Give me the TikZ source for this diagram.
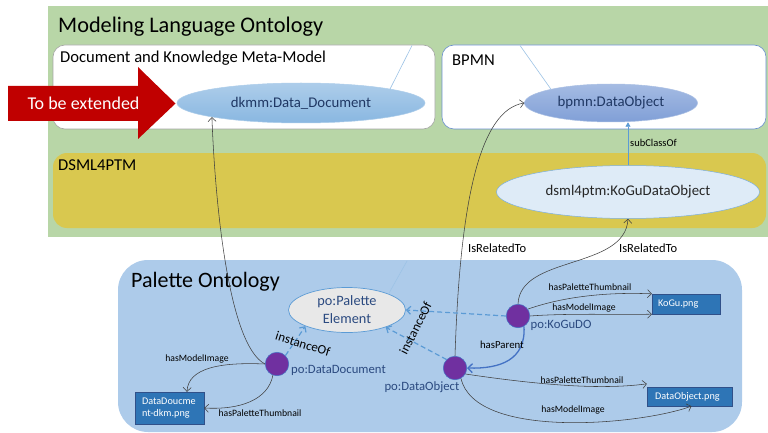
\documentclass[tikz,border=0pt]{standalone}
\usepackage{fontspec}
\setmainfont{Carlito}
\usetikzlibrary{arrows.meta,shapes.geometric}

\definecolor{mlgreen}{HTML}{B8D6A7}
\definecolor{dsyellow}{HTML}{D9C84F}
\definecolor{pablue}{HTML}{ADCBEA}
\definecolor{navy}{HTML}{203864}
\definecolor{steel}{HTML}{2B4A80}
\definecolor{accent}{HTML}{5B9BD5}
\definecolor{deepblue}{HTML}{4472C4}
\definecolor{pngblue}{HTML}{2E75B6}
\definecolor{purp}{HTML}{7030A0}
\definecolor{extred}{HTML}{C00000}
\definecolor{linegray}{HTML}{404040}

\begin{document}
\begin{tikzpicture}[x=1pt,y=-1pt,
  frame/.style={rounded corners=12pt},
  title/.style={anchor=base west, inner sep=0, text=black},
  cls/.style={ellipse, inner sep=0, font=\fontsize{14.8}{17.5}\selectfont},
  inst/.style={circle, fill=purp, draw=deepblue, line width=0.5pt, minimum size=23.5pt, inner sep=0},
  instlbl/.style={inner sep=0, text=steel, font=\fontsize{12.7}{15}\selectfont},
  png/.style={rectangle, fill=pngblue, draw=deepblue!70!black, line width=0.3pt, text=white,
    font=\fontsize{10.2}{12.7}\selectfont, inner ysep=0, align=left},
  rel/.style={draw=linegray, line width=0.55pt, -{Straight Barb[length=4pt,width=8pt]}},
  rlbl/.style={inner sep=0, font=\fontsize{9.7}{11}\selectfont},
  biglbl/.style={inner sep=0, font=\fontsize{12.5}{14}\selectfont},
  instof/.style={draw=accent, line width=1.2pt, dash pattern=on 5pt off 3pt,
    -{Straight Barb[length=4pt,width=8pt]}},
  instoflbl/.style={inner sep=0, font=\fontsize{13}{15}\selectfont},
  parent/.style={draw=deepblue, line width=1.3pt, -{Straight Barb[length=4.5pt,width=9pt]}},
  callout/.style={draw=accent!60, line width=0.6pt}]

\useasboundingbox (0,0) rectangle (768,433);

% ---- Modeling Language Ontology ----
\fill[mlgreen] (48,6) rectangle (768,237);
\node[title, font=\fontsize{22.3}{26}\selectfont] (mlo) at (58,33) {Modeling Language Ontology};

\filldraw[frame, fill=white, draw=black!35, line width=0.6pt] (53,45) rectangle (435,129);
\node[title, font=\fontsize{16.6}{19}\selectfont] (dkmmtitle) at (60,63) {Document and Knowledge Meta-Model};

\filldraw[frame, fill=white, draw=deepblue!80, line width=0.6pt] (442,45) rectangle (766,129);
\node[title, font=\fontsize{16.6}{19}\selectfont] (bpmntitle) at (452,65.5) {BPMN};

\fill[dsyellow, rounded corners=14pt] (53,153) rectangle (766,228);
\node[title, font=\fontsize{16.6}{19}\selectfont] (dsmltitle) at (58,170.5) {DSML4PTM};

% ---- Palette Ontology ----
\fill[pablue, rounded corners=30pt] (118,260) rectangle (742,432);
\node[title, font=\fontsize{22}{26}\selectfont] (potitle) at (131,287.5) {Palette Ontology};

% ---- extension marker ----
\fill[extred] (8,86) -- (138,86) -- (138,67) -- (175.5,103.5) -- (138,139) -- (138,121) -- (8,121) -- cycle;
\node[inner sep=0, anchor=base, text=white, font=\fontsize{18}{21}\selectfont] (ext) at (83.5,109.3) {To be extended};

% ---- classes ----
\node[cls, minimum width=248, minimum height=40, text=navy,
  top color=accent!50, bottom color=accent!72, draw=accent!50, line width=0.5pt]
  (dkmm) at (301,103) {dkmm:Data\_Document};
\node[cls, minimum width=173, minimum height=38, text=navy,
  top color=deepblue!48, bottom color=deepblue!68, draw=deepblue!45, line width=0.5pt]
  (bpmn) at (611,103) {bpmn:DataObject};
\node[cls, minimum width=263, minimum height=53, text=black!85,
  fill=accent!20, draw=accent!80, line width=0.5pt]
  (kogu) at (628,192) {dsml4ptm:KoGuDataObject};
\node[cls, minimum width=117, minimum height=45, text=steel, align=center,
  fill=black!9, draw=accent, line width=0.7pt, font=\fontsize{14.3}{18}\selectfont]
  (pe) at (347,310) {po:Palette\\Element};

% ---- palette instances ----
\node[inst] (ddoc) at (277,364) {};
\node[inst] (dobj) at (455,368) {};
\node[inst] (kdo) at (518,316) {};
\node[instlbl, anchor=west] (ddoclbl) at (291,370.5) {po:DataDocument};
\node[instlbl, anchor=east] (dobjlbl) at (459.5,387) {po:DataObject};
\node[instlbl, anchor=west] (kdolbl) at (530.5,325.5) {po:KoGuDO};

% ---- image files ----
\node[png, minimum height=20, text width=56, inner xsep=6] (kpng) at (686,304) {KoGu.png};
\node[png, minimum height=19, text width=69, inner xsep=8] (dopng) at (689.5,396.5) {DataObject.png};
\node[png, minimum height=32, text width=55, inner xsep=7] (ddpng) at (169.5,408) {DataDoucme\\nt-dkm.png};

% ---- callout strokes ----
\coordinate (c1) at (412,45.5);
\coordinate (c2) at (520,45.5);
\coordinate (c3) at (407,261);
\draw[callout] (c1) -- (dkmm.9);
\draw[callout] (c2) -- (bpmn.167);
\draw[callout] (c3) -- (pe.north east);

% ---- subclass relation ----
\draw[draw=accent, line width=0.8pt, -{Triangle[length=4.5pt,width=5pt]}]
  (kogu.north) -- (kogu.north |- bpmn.south);
\node[rlbl, anchor=west, font=\fontsize{10.5}{12}\selectfont] (sublbl) at (630,143) {subClassOf};

% ---- cross-ontology relations ----
\draw[rel] (ddoc.west) .. controls (228,345) and (215,200) .. (dkmm.189);
\draw[rel] (dobj.north) .. controls (460,200) and (480,110) .. (bpmn.west);
\node[biglbl, anchor=west] (rel1) at (468,248) {IsRelatedTo};
\draw[rel] (kdo.north) .. controls (520,255) and (625,270) .. (kogu.south);
\node[biglbl, anchor=west] (rel2) at (619,248) {IsRelatedTo};

% ---- instanceOf ----
\draw[instof] (ddoc.north east) -- (pe.south west);
\node[instoflbl, rotate=-17] (io1) at (303,344) {instanceOf};
\draw[instof] (dobj.north west) -- (pe.-24);
\node[instoflbl, rotate=63] (io2) at (415.5,328) {instanceOf};
\draw[instof] (kdo.west) -- (pe.east);

% ---- hasParent ----
\draw[parent] (kdo.-60) .. controls (526,360) and (500,369) .. (dobj.east);
\node[rlbl, anchor=east, font=\fontsize{10.8}{12}\selectfont] (hp) at (524,345) {hasParent};

% ---- image properties ----
\draw[rel] (kdo.35) .. controls (565,296) and (610,292) .. (kpng.north west);
\node[rlbl] (kthumb) at (590,287) {hasPaletteThumbnail};
\draw[rel] (kdo.east) .. controls (570,313) and (620,315) .. (kpng.south west);
\node[rlbl] (kmodel) at (584,308) {hasModelImage};

\draw[rel] (dobj.-30) .. controls (540,385) and (600,390) .. ([yshift=3]dopng.north west);
\node[rlbl] (othumb) at (582,380) {hasPaletteThumbnail};
\draw[rel] (dobj.-60) .. controls (475,440) and (640,425) .. ([xshift=2]dopng.south);
\node[rlbl] (omodel) at (573,410) {hasModelImage};

\draw[rel] (ddoc.west) .. controls (220,362) and (188,368) .. ([xshift=17.5]ddpng.north);
\node[rlbl] (dmodel) at (197,359) {hasModelImage};
\draw[rel] (ddoc.250) .. controls (268,400) and (240,410) .. (ddpng.east);
\node[rlbl] (dthumb) at (260,413) {hasPaletteThumbnail};

\end{tikzpicture}
\end{document}
